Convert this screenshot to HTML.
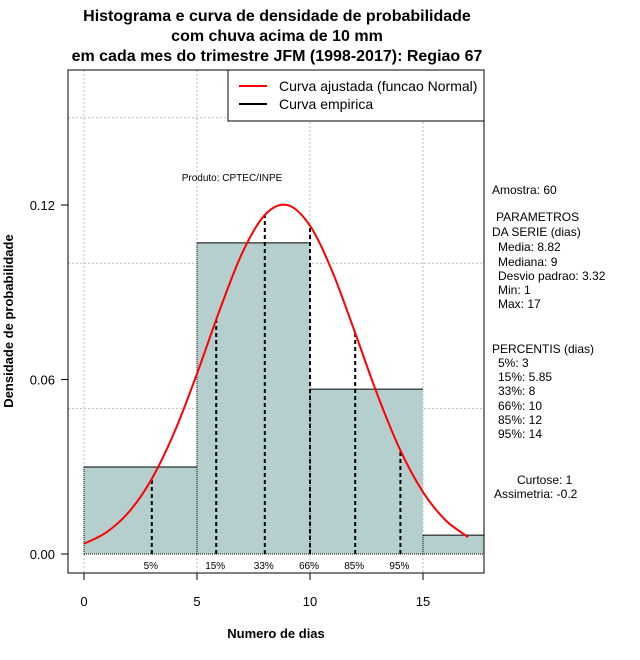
<!DOCTYPE html>
<html><head><meta charset="utf-8"><style>
body{margin:0;background:#fff}
svg{display:block;font-family:"Liberation Sans",sans-serif}
</style></head><body>
<svg id="c" width="640" height="660" viewBox="0 0 640 660">
<g font-weight="bold" font-size="16" text-anchor="middle">
<text x="277" y="21">Histograma e curva de densidade de probabilidade</text>
<text x="277" y="41">com chuva acima de 10 mm</text>
<text x="277" y="61">em cada mes do trimestre JFM (1998-2017): Regiao 67</text>
</g>
<g id="grid"></g>
<g id="bars"></g>
<g id="pct"></g>
<path id="curve" fill="none" stroke="#f00" stroke-width="2"/>
<rect x="68" y="70" width="416" height="503" fill="none" stroke="#000"/>
<g id="axes" font-size="13"></g>
<text x="232" y="181" font-size="10" text-anchor="middle">Produto: CPTEC/INPE</text>
<text x="276" y="638" font-size="13" font-weight="bold" text-anchor="middle">Numero de dias</text>
<text transform="translate(13,321) rotate(-90)" font-size="13" font-weight="bold" text-anchor="middle">Densidade de probabilidade</text>
<g>
<rect x="228" y="70" width="256" height="51" fill="#fff" stroke="#000"/>
<line x1="239" y1="86" x2="267" y2="86" stroke="#f00" stroke-width="2"/>
<line x1="239" y1="104" x2="267" y2="104" stroke="#000" stroke-width="2"/>
<text x="279" y="91" font-size="14">Curva ajustada (funcao Normal)</text>
<text x="279" y="109" font-size="14">Curva empirica</text>
</g>
<g font-size="12">
<text x="492" y="194">Amostra: 60</text>
<text x="496" y="221">PARAMETROS</text>
<text x="492" y="236">DA SERIE (dias)</text>
<text x="498" y="251">Media: 8.82</text>
<text x="498" y="266">Mediana: 9</text>
<text x="498" y="280">Desvio padrao: 3.32</text>
<text x="498" y="294">Min: 1</text>
<text x="498" y="308">Max: 17</text>
<text x="492" y="353">PERCENTIS (dias)</text>
<text x="498" y="367">5%: 3</text>
<text x="498" y="381">15%: 5.85</text>
<text x="498" y="395">33%: 8</text>
<text x="498" y="410">66%: 10</text>
<text x="498" y="424">85%: 12</text>
<text x="498" y="438">95%: 14</text>
<text x="517" y="484">Curtose: 1</text>
<text x="494" y="498">Assimetria: -0.2</text>
</g>
</svg>
<script>
const binEdges=[0,5,10,15,20];
const binDensity=[0.0299,0.107,0.0567,0.0065];
const curveX=[0,1,2,3,4,5,6,7,8,9,10,11,12,13,14,15,16,17];
const curveY=[0.00352,0.0075,0.01457,0.02584,0.0419,0.0620,0.0838,0.1035,0.1166,0.1200,0.1129,0.0969,0.0760,0.0544,0.0356,0.0213,0.0116,0.0058];
const pctX=[3,5.85,8,10,12,14];
const pctY=[0.0258,0.0806,0.1166,0.1129,0.0760,0.0356];
const pctLabels=["5%","15%","33%","66%","85%","95%"];
const xTicks=[0,5,10,15];
const yTicks=[0,0.06,0.12];
const yTickLabels=["0.00","0.06","0.12"];
const yGrid=[0.05,0.10,0.15];

const NS="http://www.w3.org/2000/svg";
const xs=v=>84+v*22.6;
const ys=v=>554-v*2908;
function mk(tag,parent,attrs){const e=document.createElementNS(NS,tag);for(const k in attrs)e.setAttribute(k,attrs[k]);parent.appendChild(e);return e;}
const grid=document.getElementById('grid'),bars=document.getElementById('bars'),pct=document.getElementById('pct'),axes=document.getElementById('axes');
xTicks.forEach(t=>{const l=mk('line',grid,{x1:xs(t),x2:xs(t),y1:70,y2:573,stroke:'#bbb','stroke-dasharray':'2,2'});

});
yGrid.forEach(t=>{const l=mk('line',grid,{x1:68,x2:484,y1:ys(t),y2:ys(t),stroke:'#bbb','stroke-dasharray':'2,2'});

});
const cp=mk('clipPath',document.getElementById('c'),{id:'clip'});mk('rect',cp,{x:68,y:70,width:416,height:503});
binDensity.forEach((d,i)=>{const x0=xs(binEdges[i]),x1=xs(binEdges[i+1]),y=ys(d);
const r=mk('rect',bars,{x:x0,y:y,width:x1-x0,height:ys(0)-y,fill:'#b5cfcf','clip-path':'url(#clip)'});


mk('line',bars,{x1:x0,x2:Math.min(x1,484),y1:y,y2:y,stroke:'#000'});
mk('line',bars,{x1:x0,x2:x0,y1:y,y2:ys(0),stroke:'#000','stroke-dasharray':'1,1'});});
mk('line',bars,{x1:xs(0),x2:484,y1:ys(0),y2:ys(0),stroke:'#000','stroke-dasharray':'1,1'});
pctX.forEach((p,i)=>{const l=mk('line',pct,{x1:xs(p),x2:xs(p),y1:ys(0),y2:ys(pctY[i]),stroke:'#000','stroke-width':2,'stroke-dasharray':'4,3'});


const t=mk('text',pct,{x:xs(p)-1,y:569,'font-size':10,'text-anchor':'middle'});t.textContent=pctLabels[i];

});
const P=curveX.map((x,i)=>[xs(x),ys(curveY[i])]);
let d='M'+P[0][0]+','+P[0][1];
for(let i=0;i<P.length-1;i++){const p0=P[Math.max(i-1,0)],p1=P[i],p2=P[i+1],p3=P[Math.min(i+2,P.length-1)];
d+=' C'+(p1[0]+(p2[0]-p0[0])/6)+','+(p1[1]+(p2[1]-p0[1])/6)+' '+(p2[0]-(p3[0]-p1[0])/6)+','+(p2[1]-(p3[1]-p1[1])/6)+' '+p2[0]+','+p2[1];}
document.getElementById('curve').setAttribute('d',d);
mk('line',axes,{x1:xs(0),x2:xs(15),y1:573,y2:573,stroke:'#000'});
xTicks.forEach(t=>{mk('line',axes,{x1:xs(t),x2:xs(t),y1:573,y2:580,stroke:'#000'});
const tx=mk('text',axes,{x:xs(t),y:606,'text-anchor':'middle'});tx.textContent=t;

});
yTicks.forEach((t,i)=>{mk('line',axes,{x1:61,x2:68,y1:ys(t),y2:ys(t),stroke:'#000'});
const tx=mk('text',axes,{x:55,y:ys(t)+5,'text-anchor':'end'});tx.textContent=yTickLabels[i];

});
</script>
</body></html>
